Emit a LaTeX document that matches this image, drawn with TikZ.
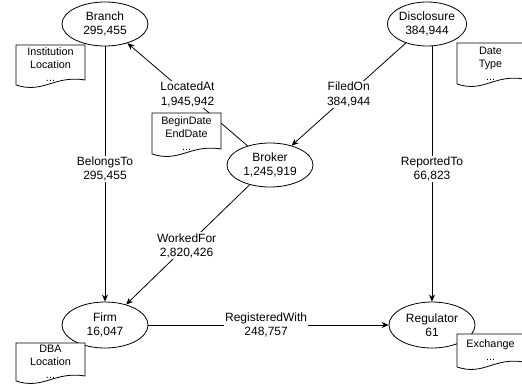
\documentclass[tikz,border=0pt]{standalone}
\usepackage{fontspec}
\setmainfont{Liberation Sans}
\usetikzlibrary{arrows.meta,shapes.geometric}
\tikzset{
  ent/.style={ellipse, draw, line width=0.8pt, fill=white, inner sep=0pt,
    minimum width=86pt, minimum height=44pt, align=center,
    font=\fontsize{12}{14.5}\selectfont},
  rel/.style={line width=0.8pt, -{Stealth[length=7pt,width=6pt]}},
  lbl/.style={fill=white, inner sep=1pt, align=center,
    font=\fontsize{12}{14.5}\selectfont},
  docline/.style={line width=0.8pt, fill=white},
  doctext/.style={inner sep=0pt, align=center,
    font=\fontsize{10.8}{13}\selectfont},
}
\newcommand{\mydoc}[6]{%
  \filldraw[docline] (#2,#3) -- ({#2+#4},#3) -- ({#2+#4},{#3+#5-9})
    .. controls ({#2+0.55*#4},{#3+#5-14}) and ({#2+0.4*#4},{#3+#5+5}) ..
    (#2,{#3+#5-4}) -- cycle;
  \node[doctext] (#1) at ({#2+#4/2},{#3+#5/2-2}) {#6};
}
\begin{document}
\begin{tikzpicture}[x=1pt,y=-1pt]
\useasboundingbox (0,0) rectangle (522,386);
% entities
\node[ent] (branch) at (105,24) {Branch\\295,455};
\node[ent, minimum width=78pt] (disclosure) at (427,24) {Disclosure\\384,944};
\node[ent] (broker) at (270,165) {Broker\\1,245,919};
\node[ent, minimum height=46pt] (firm) at (105,325) {Firm\\16,047};
\node[ent, minimum height=46pt] (regulator) at (432,325) {Regulator\\61};
% relations
\draw[rel] (branch) -- node[lbl, pos=0.48] (belongs) {BelongsTo\\295,455} (firm);
\draw[rel] (broker) -- node[lbl, pos=0.5] (located) {LocatedAt\\1,945,942} (branch);
\draw[rel] (disclosure) -- node[lbl, pos=0.5] (filed) {FiledOn\\384,944} (broker);
\draw[rel] (broker) -- node[lbl, pos=0.51] (worked) {WorkedFor\\2,820,426} (firm);
\draw[rel] (disclosure.south -| regulator.north) -- node[lbl, pos=0.48] (reported) {ReportedTo\\66,823} (regulator.north);
\draw[rel] (firm) -- node[lbl, pos=0.49] (registered) {RegisteredWith\\248,757} (regulator);
% attribute documents
\mydoc{branchdoc}{16}{45}{69}{44}{Institution\\Location\\...}
\mydoc{brokerdoc}{152}{113}{69}{45}{BeginDate\\EndDate\\...}
\mydoc{disclosuredoc}{457}{43}{67}{45}{Date\\Type\\...}
\mydoc{firmdoc}{16}{343}{69}{42}{DBA\\Location\\...}
\mydoc{regulatordoc}{457}{334}{67}{37}{Exchange\\...}
\end{tikzpicture}
\end{document}
